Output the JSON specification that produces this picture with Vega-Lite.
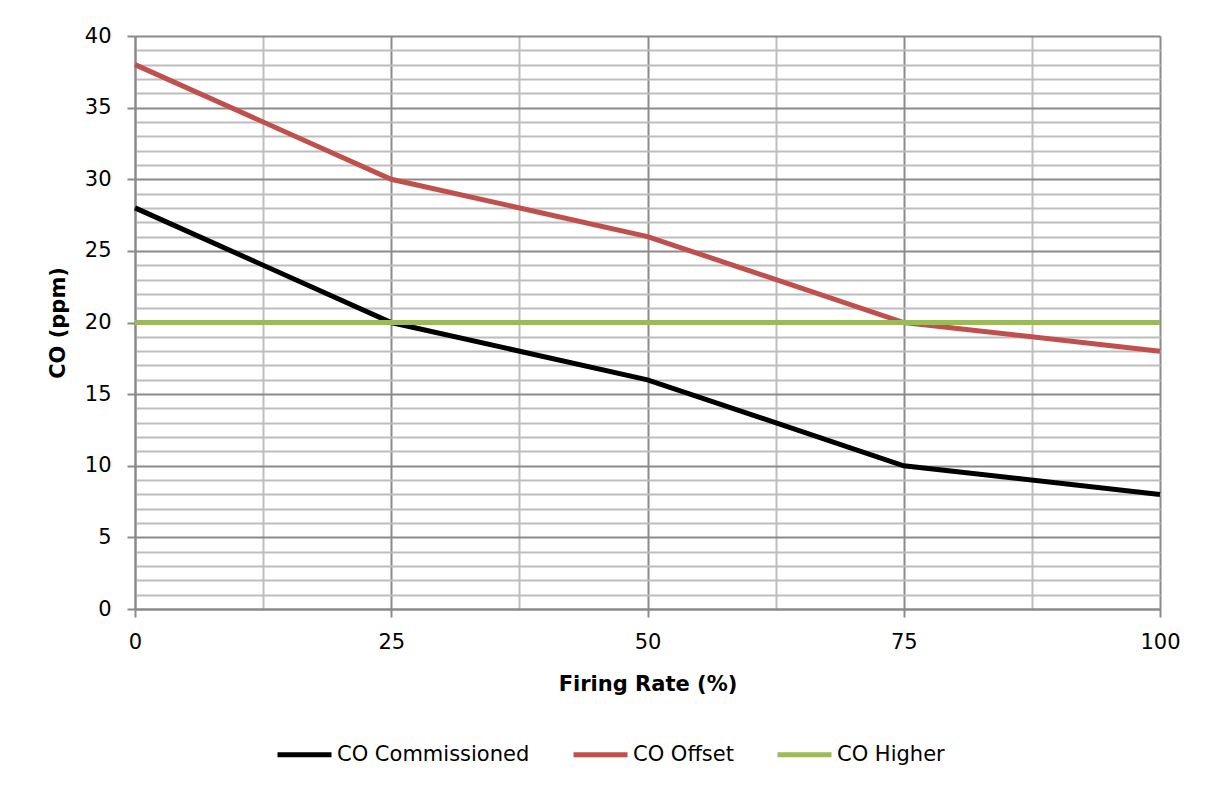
{
  "$schema": "https://vega.github.io/schema/vega-lite/v6.json",
  "width": 1025,
  "height": 573,
  "autosize": {"type": "none"},
  "padding": {"left": 135, "top": 36, "right": 48, "bottom": 181},
  "background": "white",
  "config": {
    "view": {"stroke": null},
    "font": "DejaVu Sans"
  },
  "data": {
    "values": [
      {"rate": 0, "series": "CO Commissioned", "co": 28},
      {"rate": 25, "series": "CO Commissioned", "co": 20},
      {"rate": 50, "series": "CO Commissioned", "co": 16},
      {"rate": 75, "series": "CO Commissioned", "co": 10},
      {"rate": 100, "series": "CO Commissioned", "co": 8},
      {"rate": 0, "series": "CO Offset", "co": 38},
      {"rate": 25, "series": "CO Offset", "co": 30},
      {"rate": 50, "series": "CO Offset", "co": 26},
      {"rate": 75, "series": "CO Offset", "co": 20},
      {"rate": 100, "series": "CO Offset", "co": 18},
      {"rate": 0, "series": "CO Higher", "co": 20},
      {"rate": 25, "series": "CO Higher", "co": 20},
      {"rate": 50, "series": "CO Higher", "co": 20},
      {"rate": 75, "series": "CO Higher", "co": 20},
      {"rate": 100, "series": "CO Higher", "co": 20}
    ]
  },
  "mark": {"type": "line", "strokeWidth": 5},
  "encoding": {
    "x": {
      "field": "rate",
      "type": "quantitative",
      "scale": {"domain": [0, 100], "nice": false},
      "axis": {
        "title": "Firing Rate (%)",
        "values": [0, 12.5, 25, 37.5, 50, 62.5, 75, 87.5, 100],
        "labelExpr": "datum.value % 25 === 0 ? datum.label : ''",
        "labelFlush": false,
        "labelOverlap": false,
        "labelFontSize": 21,
        "labelColor": "black",
        "labelPadding": 14,
        "tickSize": 8,
        "tickWidth": 2,
        "tickColor": {"condition": {"test": "datum.value % 25 === 0", "value": "#8a8a8a"}, "value": "transparent"},
        "grid": true,
        "gridWidth": 2,
        "gridColor": {"condition": {"test": "datum.value % 25 === 0", "value": "#8a8a8a"}, "value": "#bdbdbd"},
        "gridOpacity": 1,
        "domainColor": "#8a8a8a",
        "domainWidth": 2,
        "titleFontSize": 21,
        "titleFontWeight": "bold",
        "titleColor": "black",
        "titlePadding": 21
      }
    },
    "y": {
      "field": "co",
      "type": "quantitative",
      "scale": {"domain": [0, 40], "nice": false},
      "axis": {
        "title": "CO (ppm)",
        "values": [0,1,2,3,4,5,6,7,8,9,10,11,12,13,14,15,16,17,18,19,20,21,22,23,24,25,26,27,28,29,30,31,32,33,34,35,36,37,38,39,40],
        "labelExpr": "datum.value % 5 === 0 ? datum.label : ''",
        "labelOverlap": false,
        "labelFlush": false,
        "labelFontSize": 21,
        "labelColor": "black",
        "labelPadding": 16,
        "tickSize": 8,
        "tickWidth": 2,
        "tickColor": {"condition": {"test": "datum.value % 5 === 0", "value": "#8a8a8a"}, "value": "transparent"},
        "grid": true,
        "gridWidth": 2,
        "gridColor": {"condition": {"test": "datum.value % 5 === 0", "value": "#8a8a8a"}, "value": "#bdbdbd"},
        "gridOpacity": 1,
        "domainColor": "#8a8a8a",
        "domainWidth": 2,
        "titleFontSize": 21,
        "titleFontWeight": "bold",
        "titleColor": "black",
        "titlePadding": 16
      }
    },
    "color": {
      "field": "series",
      "type": "nominal",
      "scale": {
        "domain": ["CO Commissioned", "CO Offset", "CO Higher"],
        "range": ["#000000", "#C0504D", "#9BBB59"]
      },
      "legend": {
        "title": null,
        "orient": "none",
        "direction": "horizontal",
        "legendX": 140,
        "legendY": 689,
        "symbolType": "stroke",
        "symbolSize": 2916,
        "symbolStrokeWidth": 5,
        "labelFontSize": 21,
        "labelColor": "black",
        "labelOffset": 3,
        "labelLimit": 0,
        "columnPadding": 33
      }
    }
  }
}
